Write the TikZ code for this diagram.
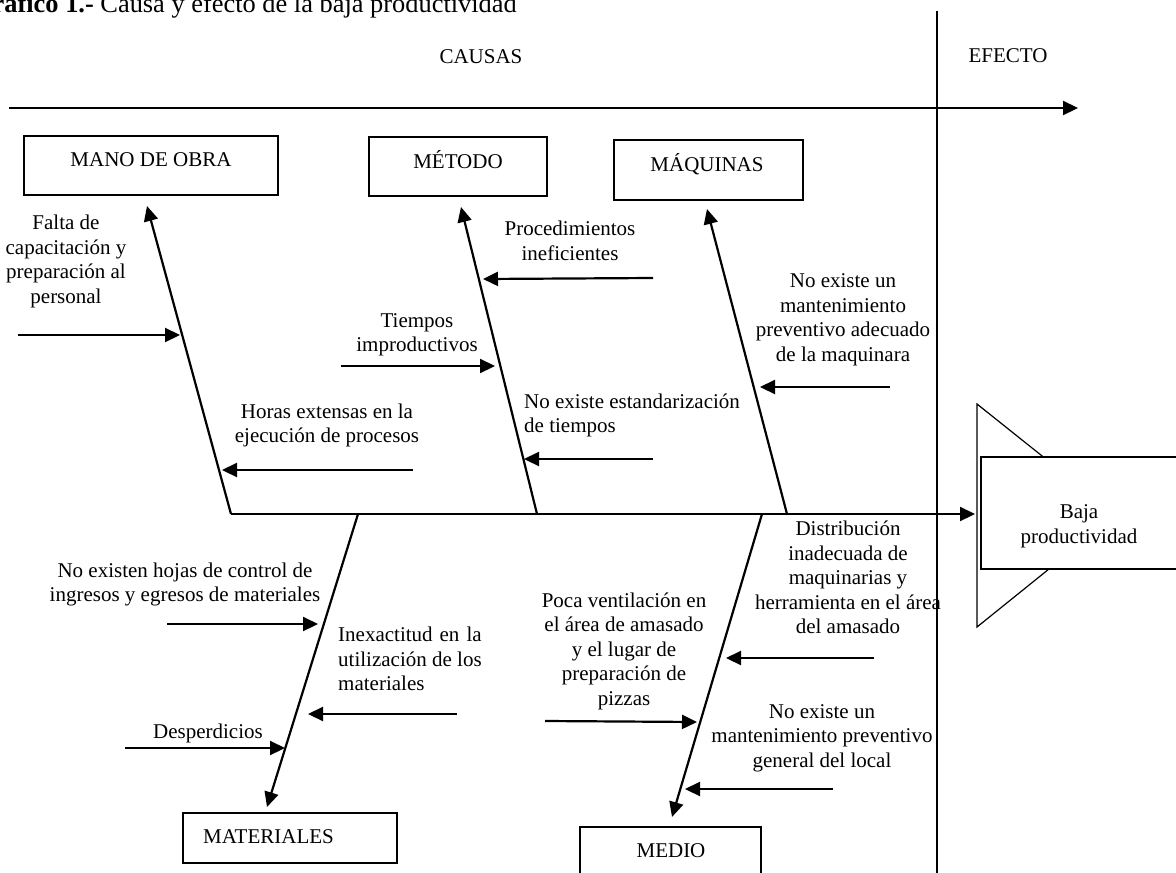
\documentclass[tikz,border=0pt]{standalone}
\usepackage{fontspec}
\setmainfont{Liberation Serif}
\usetikzlibrary{arrows.meta}
\newlength\myw
\begin{document}
\begin{tikzpicture}[x=1pt,y=-1pt,
  every node/.style={inner sep=0pt, font=\fontsize{21}{24.5}\selectfont},
  box/.style={draw, line width=1.2pt, rectangle},
  bone/.style={line width=2.2pt, -{Triangle[length=15pt,width=14pt]}},
  causearrow/.style={line width=2.2pt, -{Triangle[length=15pt,width=14pt]}},
  txt/.style={align=center},
  ltxt/.style={align=left, anchor=west}]
\useasboundingbox (0,0) rectangle (1176,873);

% title and headings
\node[anchor=base east, font=\fontsize{26.4}{30}\selectfont] (title) at (517,12) {\textbf{Gráfico 1.-} Causa y efecto de la baja productividad};
\node[anchor=base] (causas) at (481,63) {CAUSAS};
\node[anchor=base] (efecto) at (1008,62) {EFECTO};

% top axis and divider
\coordinate (axS) at (9,108);
\coordinate (axE) at (1078,108);
\draw[causearrow] (axS) -- (axE);
\coordinate (vT) at (937,11);
\coordinate (vB) at (937,880);
\draw[line width=1.8pt] (vT) -- (vB);

% effect head
\coordinate (t1) at (977,404);
\coordinate (t2) at (1116,515);
\coordinate (t3) at (977,627);
\draw[line width=1.2pt, fill=white] (t1) -- (t2) -- (t3) -- cycle;
\node[box, fill=white, minimum width=209pt, minimum height=112pt] (bajaBox) at (1085.5,513) {};
\node[anchor=base, align=center] (bajaT) at (1079,518) {Baja};
\node[anchor=base] (bajaT2) at (1079,543) {productividad};

% category boxes
\node[box, minimum width=254pt, minimum height=59pt] (manoBox) at (151,165.5) {};
\node[anchor=base] (manoT) at (151,166) {MANO DE OBRA};
\node[box, minimum width=178pt, minimum height=59pt] (metBox) at (458,166.5) {};
\node[anchor=base] (metT) at (458,168) {MÉTODO};
\node[box, minimum width=189pt, minimum height=60pt] (maqBox) at (708.5,170) {};
\node[anchor=base] (maqT) at (707,171) {MÁQUINAS};
\node[box, minimum width=214pt, minimum height=50pt] (matBox) at (290,838) {};
\node[anchor=base west] (matT) at (203,843) {MATERIALES};
\node[box, minimum width=181pt, minimum height=80pt] (medBox) at (670.5,867) {};
\node[anchor=base] (medT) at (671,857) {MEDIO};

% spine
\coordinate (sp0) at (231,514);
\coordinate (spE) at (975,514);
\draw[causearrow] (sp0) -- (spE);

% bones
\coordinate (manoTip) at (147,206);
\draw[bone] (sp0) -- (manoTip);
\coordinate (metB) at (537,514);
\coordinate (metTip) at (461,207);
\draw[bone] (metB) -- (metTip);
\coordinate (maqB) at (787,514);
\coordinate (maqTip) at (707,209);
\draw[bone] (maqB) -- (maqTip);
\coordinate (matB) at (358,514);
\coordinate (matTip) at (267,807);
\draw[bone] (matB) -- (matTip);
\coordinate (medB) at (762,514);
\coordinate (medTip) at (672,817);
\draw[bone] (medB) -- (medTip);

% MANO DE OBRA causes
\node[txt] (falta) at (66,261.5) {Falta de\\capacitación y\\preparación al\\personal};
\coordinate (faltaS) at (18,335); \coordinate (faltaE) at (180,335);
\draw[causearrow] (faltaS) -- (faltaE);
\node[txt] (horas) at (327,425.5) {Horas extensas en la\\ejecución de procesos};
\coordinate (horasS) at (413,470); \coordinate (horasE) at (222,470);
\draw[causearrow] (horasS) -- (horasE);

% METODO causes
\node[txt] (proc) at (570,241) {Procedimientos\\ineficientes};
\coordinate (procS) at (653,278); \coordinate (procE) at (483,279);
\draw[causearrow] (procS) -- (procE);
\node[txt] (tiem) at (417,335) {Tiempos\\improductivos};
\coordinate (tiemS) at (341,366); \coordinate (tiemE) at (495,366);
\draw[causearrow] (tiemS) -- (tiemE);
\node[ltxt] (noest) at (524,415.5) {No existe estandarización\\de tiempos};
\coordinate (noestS) at (653,459); \coordinate (noestE) at (524,459);
\draw[causearrow] (noestS) -- (noestE);

% MAQUINAS cause
\node[txt] (maqc) at (843,320) {No existe un\\mantenimiento\\preventivo adecuado\\de la maquinara};
\coordinate (maqcS) at (890,387); \coordinate (maqcE) at (760,387);
\draw[causearrow] (maqcS) -- (maqcE);

% MATERIALES causes
\node[txt] (hojas) at (185,584.5) {No existen hojas de control de\\ingresos y egresos de materiales};
\coordinate (hojasS) at (167,624); \coordinate (hojasE) at (318,624);
\draw[causearrow] (hojasS) -- (hojasE);
\node[ltxt] (inex) at (338,659) {\settowidth{\myw}{utilización de los}\makebox[\myw][s]{Inexactitud en la}\\utilización de los\\materiales};
\coordinate (inexS) at (457,714); \coordinate (inexE) at (308,714);
\draw[causearrow] (inexS) -- (inexE);
\node[txt] (desp) at (208,733) {Desperdicios};
\coordinate (despS) at (125,748); \coordinate (despE) at (285,748);
\draw[causearrow] (despS) -- (despE);

% MEDIO causes
\node[txt] (poca) at (624,651) {Poca ventilación en\\el área de amasado\\y el lugar de\\preparación de\\pizzas};
\coordinate (pocaS) at (545,721); \coordinate (pocaE) at (697,722);
\draw[causearrow] (pocaS) -- (pocaE);
\node[txt] (dist) at (848,577.5) {Distribución\\inadecuada de\\maquinarias y\\herramienta en el área\\del amasado};
\coordinate (distS) at (874,658); \coordinate (distE) at (726,658);
\draw[causearrow] (distS) -- (distE);
\node[txt] (noexl) at (822,738) {No existe un\\mantenimiento preventivo\\general del local};
\coordinate (noexlS) at (833,789); \coordinate (noexlE) at (685,789);
\draw[causearrow] (noexlS) -- (noexlE);
\end{tikzpicture}
\end{document}
